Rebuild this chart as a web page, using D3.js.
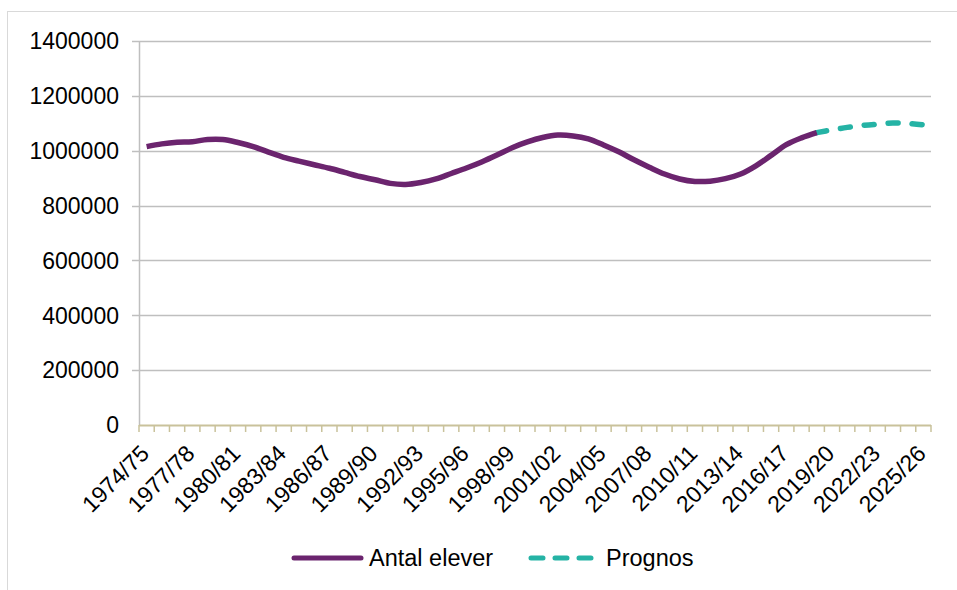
<!DOCTYPE html>
<html>
<head>
<meta charset="utf-8">
<script src="https://cdn.jsdelivr.net/npm/d3@7"></script>
<style>
  html, body { margin: 0; padding: 0; background: #fff; }
  svg { display: block; }
  text { font-family: "Liberation Sans", Arial, sans-serif; fill: #000; }
</style>
</head>
<body>
<svg id="chart" width="957" height="590"></svg>
<script>
const categories = ["1974/75","1975/76","1976/77","1977/78","1978/79","1979/80","1980/81","1981/82","1982/83","1983/84",
  "1984/85","1985/86","1986/87","1987/88","1988/89","1989/90","1990/91","1991/92","1992/93","1993/94",
  "1994/95","1995/96","1996/97","1997/98","1998/99","1999/00","2000/01","2001/02","2002/03","2003/04",
  "2004/05","2005/06","2006/07","2007/08","2008/09","2009/10","2010/11","2011/12","2012/13","2013/14",
  "2014/15","2015/16","2016/17","2017/18","2018/19","2019/20","2020/21","2021/22","2022/23","2023/24",
  "2024/25","2025/26"];

// Antal elever: 1974/75 .. 2018/19
const antalElever = [1015000,1025000,1031000,1033000,1041000,1041000,1030000,1015000,995000,976000,
  962000,949000,936000,921000,906000,894000,881000,877000,884000,897000,
  917000,937000,959000,984000,1011000,1032000,1048000,1057000,1054000,1043000,
  1021000,996000,967000,940000,915000,897000,888000,889000,898000,915000,
  945000,983000,1022000,1047000,1066000];

// Prognos: 2018/19 .. 2025/26
const prognosStart = 44;
const prognos = [1066000,1076000,1085000,1092000,1097000,1101000,1099000,1094000];

const yTicks = [0,200000,400000,600000,800000,1000000,1200000,1400000];
const xLabelEvery = 3;

const seriesNames = ["Antal elever", "Prognos"];
const colors = ["#6b246e", "#25b3a5"];

const svg = d3.select("#chart");
const plot = { left: 139, right: 931, top: 41, bottom: 425 };

// outer frame
svg.append("rect")
  .attr("x", 7.5).attr("y", 11.5)
  .attr("width", 980).attr("height", 620)
  .attr("fill", "none").attr("stroke", "#d9d9d9").attr("stroke-width", 1);

const x = d3.scaleBand().domain(categories).range([plot.left, plot.right]).padding(0);
const y = d3.scaleLinear().domain([0, 1400000]).range([plot.bottom, plot.top]);
const cx = c => x(c) + x.bandwidth() / 2;

// gridlines
svg.append("g").selectAll("line")
  .data(yTicks.filter(d => d > 0))
  .join("line")
  .attr("x1", plot.left - 7).attr("x2", plot.right)
  .attr("y1", d => Math.round(y(d)) + 0.5).attr("y2", d => Math.round(y(d)) + 0.5)
  .attr("stroke", "#bfbfbf").attr("stroke-width", 1.5);

// y axis line
svg.append("line")
  .attr("x1", plot.left + 0.5).attr("x2", plot.left + 0.5)
  .attr("y1", plot.top).attr("y2", plot.bottom)
  .attr("stroke", "#bfbfbf").attr("stroke-width", 1.5);

// y labels
svg.append("g").selectAll("text")
  .data(yTicks)
  .join("text")
  .attr("x", 119)
  .attr("y", d => y(d))
  .attr("dy", "0.36em")
  .attr("text-anchor", "end")
  .attr("font-size", 23)
  .text(d => d3.format("d")(d));

// x axis line and ticks
const axisColor = "#c9c29b";
svg.append("line")
  .attr("x1", plot.left).attr("x2", plot.right)
  .attr("y1", plot.bottom + 0.5).attr("y2", plot.bottom + 0.5)
  .attr("stroke", axisColor).attr("stroke-width", 2);
const tickPos = categories.map(c => x(c)).concat([plot.right]);
svg.append("g").selectAll("line")
  .data(tickPos)
  .join("line")
  .attr("x1", d => d).attr("x2", d => d)
  .attr("y1", plot.bottom).attr("y2", plot.bottom + 7)
  .attr("stroke", axisColor).attr("stroke-width", 1.5);

// x labels
svg.append("g").selectAll("text")
  .data(categories.filter((c, i) => i % xLabelEvery === 0))
  .join("text")
  .attr("transform", c => `translate(${cx(c) - 2},${plot.bottom + 24}) rotate(-45)`)
  .attr("text-anchor", "end")
  .attr("dy", "0.36em")
  .attr("font-size", 23)
  .text(c => c);

// lines
const line = d3.line()
  .x(d => cx(d.c))
  .y(d => y(d.v))
  .curve(d3.curveCatmullRom.alpha(0.5));

const actualData = antalElever.map((v, i) => ({ c: categories[i], v }));
const prognosData = prognos.map((v, i) => ({ c: categories[prognosStart + i], v }));

svg.append("path")
  .datum(prognosData)
  .attr("d", line)
  .attr("fill", "none")
  .attr("stroke", colors[1])
  .attr("stroke-width", 5.5)
  .attr("stroke-linecap", "round")
  .attr("stroke-dasharray", "10,14");

svg.append("path")
  .datum(actualData)
  .attr("d", line)
  .attr("fill", "none")
  .attr("stroke", colors[0])
  .attr("stroke-width", 5.5)
  .attr("stroke-linejoin", "round");

// legend
const legendY = 558;
const lg = svg.append("g");
lg.append("line")
  .attr("x1", 294).attr("x2", 361).attr("y1", legendY).attr("y2", legendY)
  .attr("stroke", colors[0]).attr("stroke-width", 5).attr("stroke-linecap", "round");
lg.append("text").attr("x", 369).attr("y", legendY).attr("dy", "0.36em")
  .attr("font-size", 23.5).text(seriesNames[0]);
lg.append("line")
  .attr("x1", 531).attr("x2", 592).attr("y1", legendY).attr("y2", legendY)
  .attr("stroke", colors[1]).attr("stroke-width", 5).attr("stroke-linecap", "round")
  .attr("stroke-dasharray", "12,12");
lg.append("text").attr("x", 606).attr("y", legendY).attr("dy", "0.36em")
  .attr("font-size", 23.5).text(seriesNames[1]);
</script>
</body>
</html>
